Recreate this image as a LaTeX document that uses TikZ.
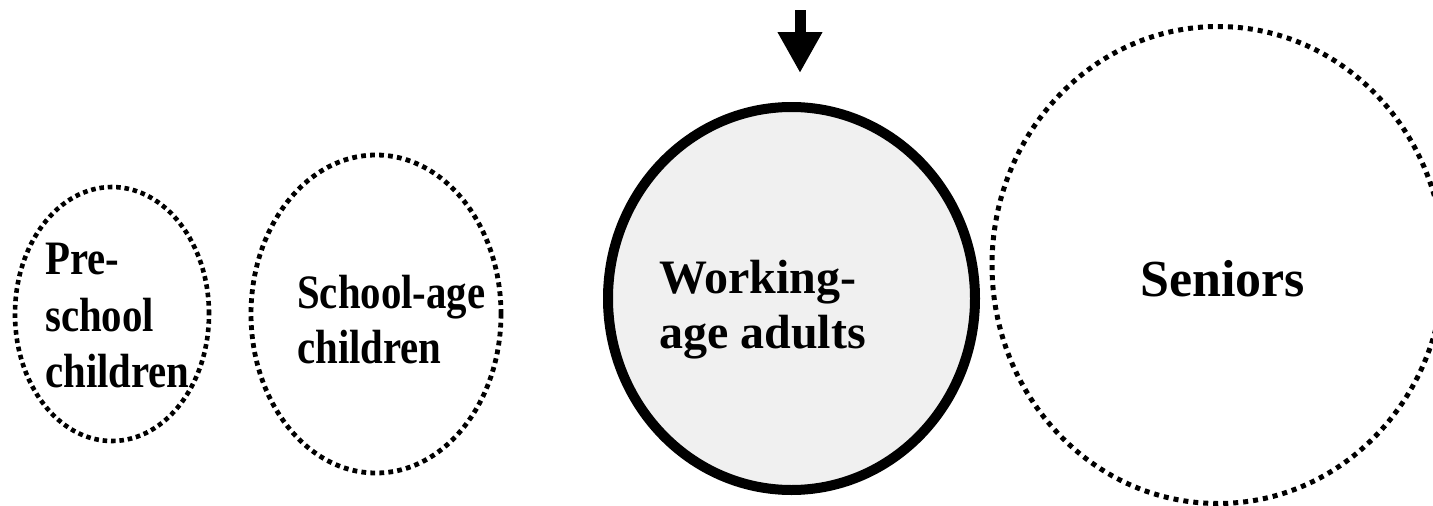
\documentclass[tikz,border=0pt]{standalone}
\usepackage{fontspec}
\setmainfont{Liberation Serif}
\newfontfamily\narrowserif[FakeStretch=0.85]{Liberation Serif}
\usetikzlibrary{arrows.meta, shapes.geometric}
\usetikzlibrary{positioning}

\begin{document}
\begin{tikzpicture}[x=1pt, y=-1pt,
		group/.style={draw, shape=ellipse, inner sep=0pt, line width=4.6pt, dash pattern=on 4.6pt off 3.8pt},
		grouptext/.style={anchor=north west, inner sep=0pt, align=left, font=\fontsize{48}{55}\selectfont\bfseries}]
		\useasboundingbox (0,0) rectangle (1433,506);
		
		\node[group, minimum width=194pt, minimum height=254pt] (pre) at (112,314) {};
		\node[group, minimum width=250pt, minimum height=318pt, line width=4.8pt, dash pattern=on 4.8pt off 4.2pt] (school) at (376,314) {};
		\node[draw, shape=ellipse, inner sep=0pt, line width=10pt, fill=gray!12, minimum width=367pt, minimum height=383pt] (work) at (791.5,298.5) {};
		\node[group, minimum width=452pt, minimum height=477pt, line width=5pt, dash pattern=on 5pt off 5pt] (senior) at (1218,265) {};
		
		\node[grouptext, font=\narrowserif\fontsize{48}{56.5}\selectfont\bfseries] (preT) at (45,243) {Pre-\\school\\children};
		\node[grouptext, font=\narrowserif\fontsize{48}{55}\selectfont\bfseries] (schoolT) at (297,274.5) {School-age\\children};
		\node[grouptext] (workT) at (659,259.5) {Working-\\age adults};
		\node[grouptext, font=\fontsize{52}{60}\selectfont\bfseries] (seniorT) at (1140,260) {Seniors};
		
		\coordinate (arrowstart) at (800,10);
		\coordinate (arrowend) at (800,73);
		\draw[line width=11pt, -{Triangle[length=41pt, width=42pt]}] (arrowstart) -- (arrowend);
	\end{tikzpicture}
\end{document}
